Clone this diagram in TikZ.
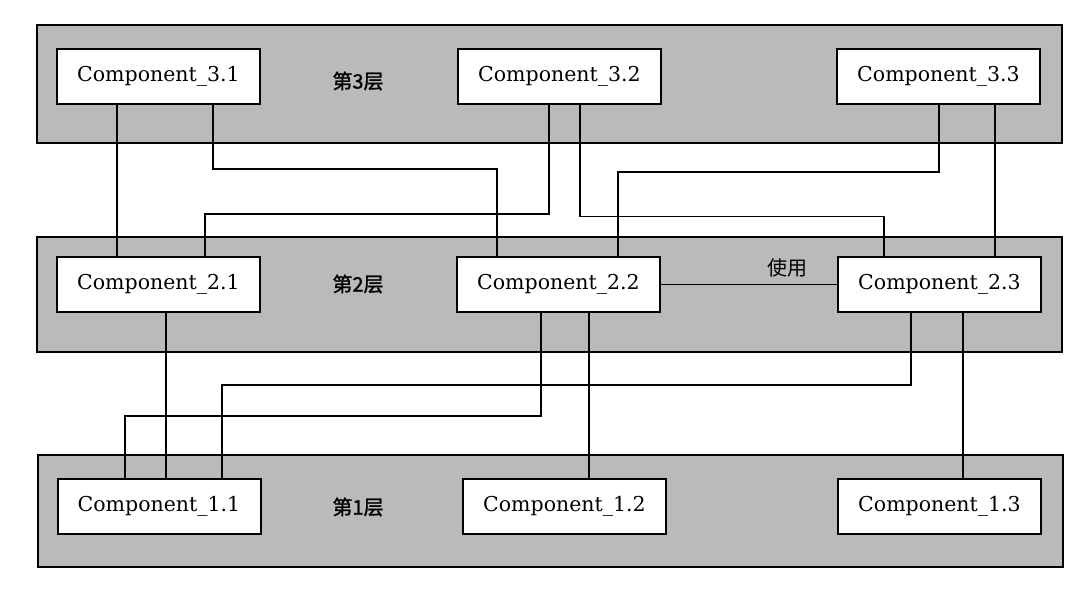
\documentclass[tikz,border=0pt]{standalone}
\usepackage{fontspec}
\setmainfont{DejaVu Serif}
\newfontfamily\cjk{Noto Sans CJK SC}
\newfontfamily\cjkbold{Noto Sans CJK SC}[FakeBold=1.5]
\definecolor{bandgray}{RGB}{186,186,186}
\begin{document}
\begin{tikzpicture}[x=1pt,y=-1pt,
  band/.style={draw=black, line width=2pt, fill=bandgray, inner sep=0pt, outer sep=0pt, minimum width=1025pt},
  comp/.style={draw=black, line width=2pt, fill=white, minimum width=203pt, minimum height=55pt, inner sep=0pt, outer sep=0pt, font=\fontsize{20.5}{24}\selectfont},
  layer/.style={font=\cjkbold\fontsize{20}{22}\selectfont},
  uselabel/.style={font=\cjk\fontsize{20}{22}\selectfont},
  wire/.style={line width=1.8pt, draw=black}]
\useasboundingbox (0,0) rectangle (1082,590);
% layers
\node[band, minimum height=118pt] (L3) at (549.5,84) {};
\node[band, minimum height=115pt] (L2) at (549.5,294.5) {};
\node[band, minimum height=112pt] (L1) at (550,511) {};
\node[layer] (t3) at (358,81) {第3层};
\node[layer] (t2) at (358,284) {第2层};
\node[layer] (t1) at (358,507) {第1层};
% components
\node[comp] (c31) at (158.5,76.5) {Component\_3.1};
\node[comp] (c32) at (559.5,76.5) {Component\_3.2};
\node[comp] (c33) at (938.5,76.5) {Component\_3.3};
\node[comp] (c21) at (158.5,284.5) {Component\_2.1};
\node[comp] (c22) at (558.5,284.5) {Component\_2.2};
\node[comp] (c23) at (939.5,284.5) {Component\_2.3};
\node[comp] (c11) at (159,506) {Component\_1.1};
\node[comp] (c12) at (564.5,506) {Component\_1.2};
\node[comp] (c13) at (939.5,506.5) {Component\_1.3};
% connectors layer 3 -> layer 2
\draw[wire] (c31.south -| 117,0) -- (c21.north -| 117,0);
\draw[wire] (c31.south -| 213,0) -- (213,169) -- (497,169) -- (c22.north -| 497,0);
\draw[wire] (c32.south -| 549,0) -- (549,214) -- (205,214) -- (c21.north -| 205,0);
\draw[wire] (c32.south -| 580,0) -- (580,216.5) -- (884,216.5) -- (c23.north -| 884,0);
\draw[wire] (c33.south -| 939,0) -- (939,172) -- (618,172) -- (c22.north -| 618,0);
\draw[wire] (c33.south -| 995,0) -- (c23.north -| 995,0);
% same layer
\draw[wire] (c22.east) -- (c23.west);
\node[uselabel] (use) at (787,268) {使用};
% connectors layer 2 -> layer 1
\draw[wire] (c21.south -| 166,0) -- (c11.north -| 166,0);
\draw[wire] (c22.south -| 541,0) -- (541,416) -- (125,416) -- (c11.north -| 125,0);
\draw[wire] (c23.south -| 911,0) -- (911,385) -- (222,385) -- (c11.north -| 222,0);
\draw[wire] (c22.south -| 589,0) -- (c12.north -| 589,0);
\draw[wire] (c23.south -| 963,0) -- (c13.north -| 963,0);
\end{tikzpicture}
\end{document}
